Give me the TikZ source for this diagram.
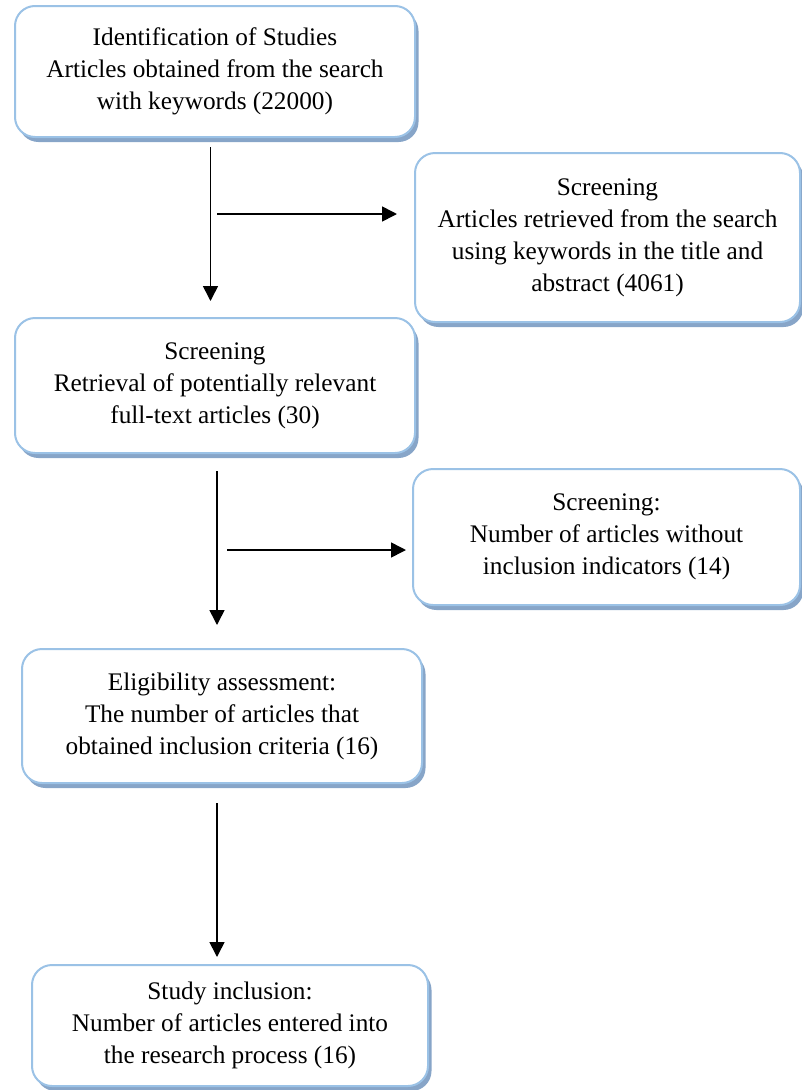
\documentclass[tikz,border=0pt]{standalone}
\usepackage{fontspec}
\setmainfont{Liberation Serif}
\usetikzlibrary{arrows.meta,shadows}
\definecolor{boxline}{RGB}{155,194,230}
\definecolor{shadowc}{RGB}{135,165,200}
\tikzset{
  flowbox/.style={draw=boxline, line width=2pt, fill=white, rounded corners=20pt,
    align=center, inner sep=4pt,
    font=\fontsize{25.3}{32}\selectfont,
    drop shadow={shadow xshift=3.5pt, shadow yshift=-5pt, fill=shadowc, opacity=1}},
  arr/.style={line width=1.6pt, -{Triangle[length=15pt,width=15pt]}}
}
\begin{document}
\begin{tikzpicture}[x=1pt,y=-1pt]
\useasboundingbox (0,0) rectangle (802,1090);
\node[flowbox, minimum width=400pt, minimum height=131pt] (b1) at (215,71.5)
  {Identification of Studies\\Articles obtained from the search\\with keywords (22000)};
\node[flowbox, minimum width=385pt, minimum height=169pt] (b2) at (607.5,237.5)
  {Screening\\Articles retrieved from the search\\using keywords in the title and\\abstract (4061)};
\node[flowbox, minimum width=400pt, minimum height=135pt] (b3) at (215,385.5)
  {Screening\\Retrieval of potentially relevant\\full-text articles (30)};
\node[flowbox, minimum width=387pt, minimum height=136pt] (b4) at (606.5,537)
  {Screening:\\Number of articles without\\inclusion indicators (14)};
\node[flowbox, minimum width=400pt, minimum height=134pt] (b5) at (222,716)
  {Eligibility assessment:\\The number of articles that\\obtained inclusion criteria (16)};
\node[flowbox, minimum width=396pt, minimum height=121pt] (b6) at (230,1025.5)
  {Study inclusion:\\Number of articles entered into\\the research process (16)};
% arrow end points
\coordinate (v1s) at (210.5,147);
\coordinate (v1e) at (210.5,301);
\coordinate (h1s) at (217,214);
\coordinate (v2s) at (217,471);
\coordinate (v2e) at (217,625);
\coordinate (h2s) at (227,550);
\coordinate (v3s) at (217,803);
\coordinate (v3e) at (217,957);
\draw[arr] (v1s) -- (v1e);
\draw[arr, shorten >=17pt] (h1s) -- (b2.west |- h1s);
\draw[arr] (v2s) -- (v2e);
\draw[arr, shorten >=6pt] (h2s) -- (b4.west |- h2s);
\draw[arr] (v3s) -- (v3e);
\end{tikzpicture}
\end{document}
